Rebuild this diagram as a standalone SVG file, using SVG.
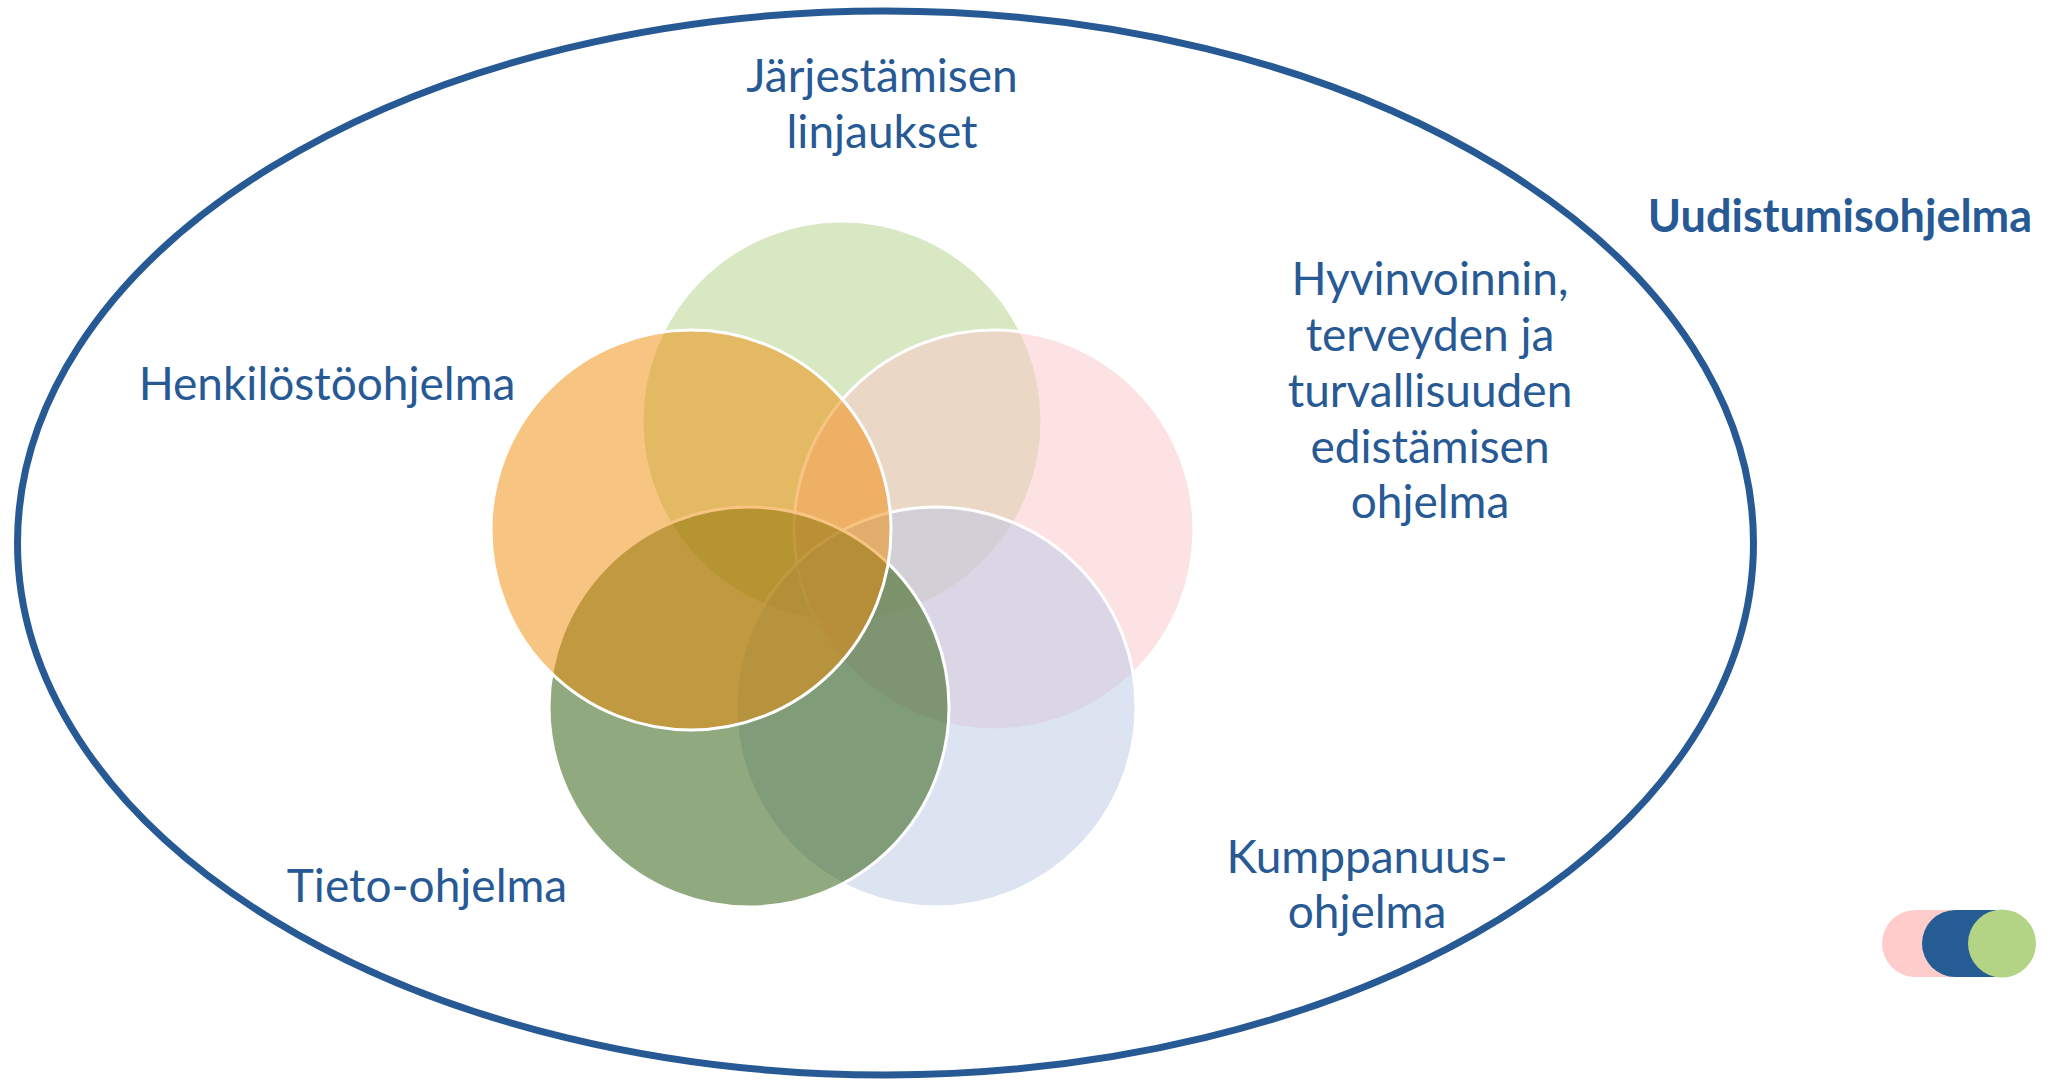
<svg xmlns="http://www.w3.org/2000/svg" width="2051" height="1080" viewBox="0 0 2051 1080">
<style>
.lbl{font-family:Lato,"Open Sans","Liberation Sans",sans-serif;font-size:46px;fill:#275A95;text-anchor:middle}
.title{font-family:Lato,"Open Sans","Liberation Sans",sans-serif;font-size:45px;font-weight:bold;fill:#275A95;text-anchor:middle}
.c{stroke:#FFFFFF;stroke-width:3;fill-opacity:0.5}
</style>
<rect width="2051" height="1080" fill="#FFFFFF"/>
<g id="frame">
<ellipse cx="885.5" cy="543" rx="868" ry="532" fill="none" stroke="#275A95" stroke-width="7"/>
</g>
<g id="circle-jarjestaminen"><circle class="c" cx="842" cy="421" r="200" fill="#B1D187"/></g>
<g id="circle-hyvinvointi"><circle class="c" cx="994" cy="530" r="200" fill="#FBC5C9"/></g>
<g id="circle-kumppanuus"><circle class="c" cx="936" cy="707" r="200" fill="#B9C9E5"/></g>
<g id="circle-tieto"><circle class="c" cx="749" cy="707" r="200" fill="#235300"/></g>
<g id="circle-henkilosto"><circle class="c" cx="691" cy="530" r="200" fill="#EF8903"/></g>
<g id="connectors"></g>
<g id="label-jarjestaminen"><text class="lbl" x="882" y="92">Järjestämisen</text><text class="lbl" x="882" y="148">linjaukset</text></g>
<g id="label-hyvinvointi"><text class="lbl" x="1430" y="295">Hyvinvoinnin,</text><text class="lbl" x="1430" y="351">terveyden ja</text><text class="lbl" x="1430" y="407">turvallisuuden</text><text class="lbl" x="1430" y="463">edistämisen</text><text class="lbl" x="1430" y="518">ohjelma</text></g>
<g id="label-henkilosto"><text class="lbl" x="327" y="400">Henkilöstöohjelma</text></g>
<g id="label-tieto"><text class="lbl" x="427" y="902">Tieto-ohjelma</text></g>
<g id="label-kumppanuus"><text class="lbl" x="1367" y="873">Kumppanuus-</text><text class="lbl" x="1367" y="928">ohjelma</text></g>
<g id="label-uudistuminen"><text class="title" x="1840" y="232">Uudistumisohjelma</text></g>
<g id="legend">
<rect x="1882" y="910" width="110" height="67" rx="33.5" fill="#FFCCCC"/>
<rect x="1922" y="910" width="105" height="67" rx="33.5" fill="#265C94"/>
<circle cx="2002" cy="943.5" r="34" fill="#B3D385"/>
</g>
</svg>
